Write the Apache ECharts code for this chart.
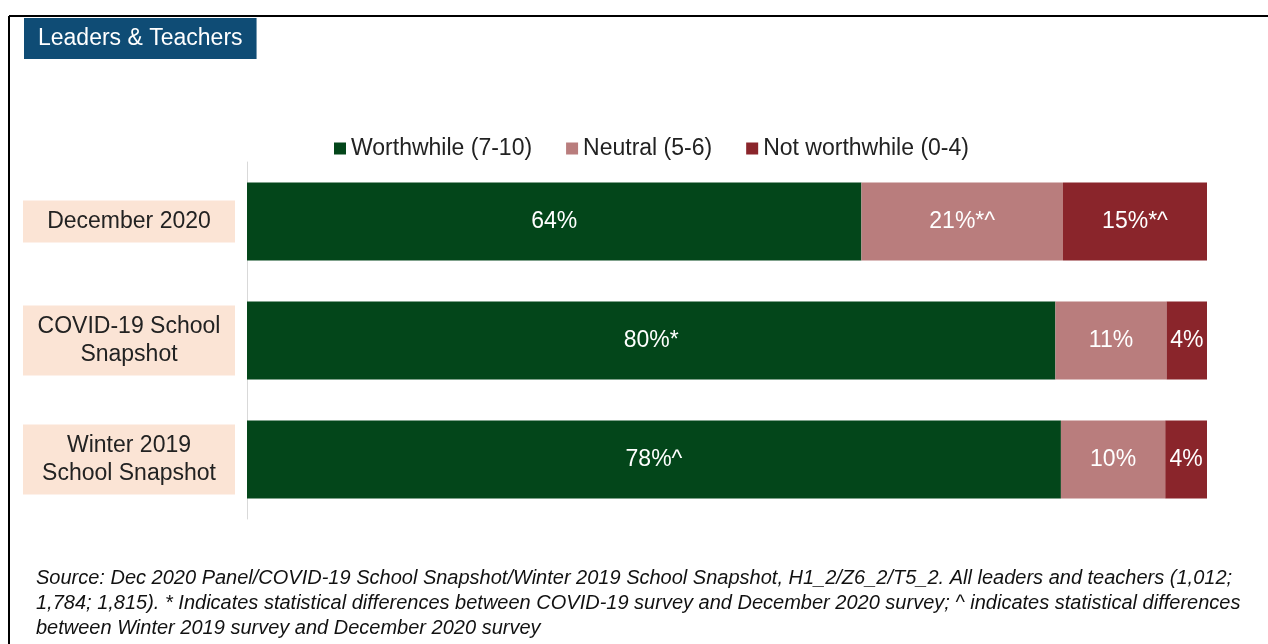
<!DOCTYPE html>
<html lang="en">
<head>
    <meta charset="UTF-8">
    <title>Leaders & Teachers</title>
    <script src="https://cdn.jsdelivr.net/npm/echarts@6/dist/echarts.min.js"></script>
    <style>
        html, body { margin: 0; padding: 0; background: #fff; }
    </style>
</head>
<body>
<div id="main" style="width:1268px;height:644px;"></div>

<script type="text/javascript">
    // data
    var categories = ['December 2020', 'COVID-19 School\nSnapshot', 'Winter 2019\nSchool Snapshot'];
    var seriesNames = ['Worthwhile (7-10)', 'Neutral (5-6)', 'Not worthwhile (0-4)'];
    var worthwhile = [64, 80, 78];
    var neutral = [21, 11, 10];
    var notWorthwhile = [15, 4, 4];
    // significance marks printed after the percentages
    var worthwhileMarks = ['', '*', '^'];
    var neutralMarks = ['*^', '', ''];
    var notWorthwhileMarks = ['*^', '', ''];

    var colors = ['#03461A', '#B97D7D', '#8A252B'];
    var font = '"Liberation Sans", Arial, sans-serif';

    var myChart = echarts.init(document.getElementById('main'));

    // bars are drawn as 100% stacked shares
    var totals = worthwhile.map(function (v, i) { return v + neutral[i] + notWorthwhile[i]; });

    function makeSeries(idx, values, marks) {
        return {
            name: seriesNames[idx],
            type: 'bar',
            stack: 'total',
            barWidth: 78,
            itemStyle: { color: colors[idx] },
            label: {
                show: true,
                position: 'inside',
                color: '#fff',
                fontSize: 23,
                fontFamily: font,
                formatter: function (p) {
                    return values[p.dataIndex] + '%' + marks[p.dataIndex];
                }
            },
            emphasis: { disabled: true },
            data: values.map(function (v, i) { return v / totals[i] * 100; })
        };
    }

    var footnote = 'Source: Dec 2020 Panel/COVID-19 School Snapshot/Winter 2019 School Snapshot, H1_2/Z6_2/T5_2. All leaders and teachers (1,012;\n' +
        '1,784; 1,815). * Indicates statistical differences between COVID-19 survey and December 2020 survey; ^ indicates statistical differences\n' +
        'between Winter 2019 survey and December 2020 survey';

    var option = {
        backgroundColor: '#fff',
        animation: false,
        title: {
            text: 'Leaders & Teachers',
            left: 24,
            top: 18,
            padding: [7, 14, 7, 14],
            backgroundColor: '#0F4C75',
            textStyle: { color: '#fff', fontSize: 23, fontWeight: 'normal', fontFamily: font, lineHeight: 27 }
        },
        legend: {
            top: 132,
            left: 329,
            icon: 'rect',
            itemWidth: 12,
            itemHeight: 12,
            itemGap: 34,
            textStyle: { color: '#222', fontSize: 23, fontFamily: font },
            data: seriesNames
        },
        grid: { left: 247, right: 61, top: 162, bottom: 125, containLabel: false },
        xAxis: {
            type: 'value',
            min: 0,
            max: 100,
            show: false
        },
        yAxis: {
            type: 'category',
            inverse: true,
            data: categories,
            axisLine: { show: true, lineStyle: { color: '#D9D9D9', width: 1 } },
            axisTick: { show: false },
            axisLabel: {
                interval: 0,
                margin: 12,
                backgroundColor: '#FBE4D5',
                padding: [7, 0, 7, 0],
                formatter: function (v) {
                    return v.split('\n').map(function (s) { return '{a|' + s + '}'; }).join('\n');
                },
                rich: {
                    a: { width: 212, align: 'center', fontSize: 23, lineHeight: 28, color: '#222', fontFamily: font }
                }
            }
        },
        graphic: [
            { type: 'line', shape: { x1: 9, y1: 16, x2: 1268, y2: 16 }, style: { stroke: '#000', lineWidth: 2 } },
            { type: 'line', shape: { x1: 9, y1: 16, x2: 9, y2: 644 }, style: { stroke: '#000', lineWidth: 2 } },
            {
                type: 'text',
                left: 36,
                top: 566,
                style: {
                    text: footnote,
                    fill: '#111',
                    font: 'italic 20px ' + font,
                    lineHeight: 25
                }
            }
        ],
        series: [
            makeSeries(0, worthwhile, worthwhileMarks),
            makeSeries(1, neutral, neutralMarks),
            makeSeries(2, notWorthwhile, notWorthwhileMarks)
        ]
    };
    myChart.setOption(option);
</script>

</body>
</html>
